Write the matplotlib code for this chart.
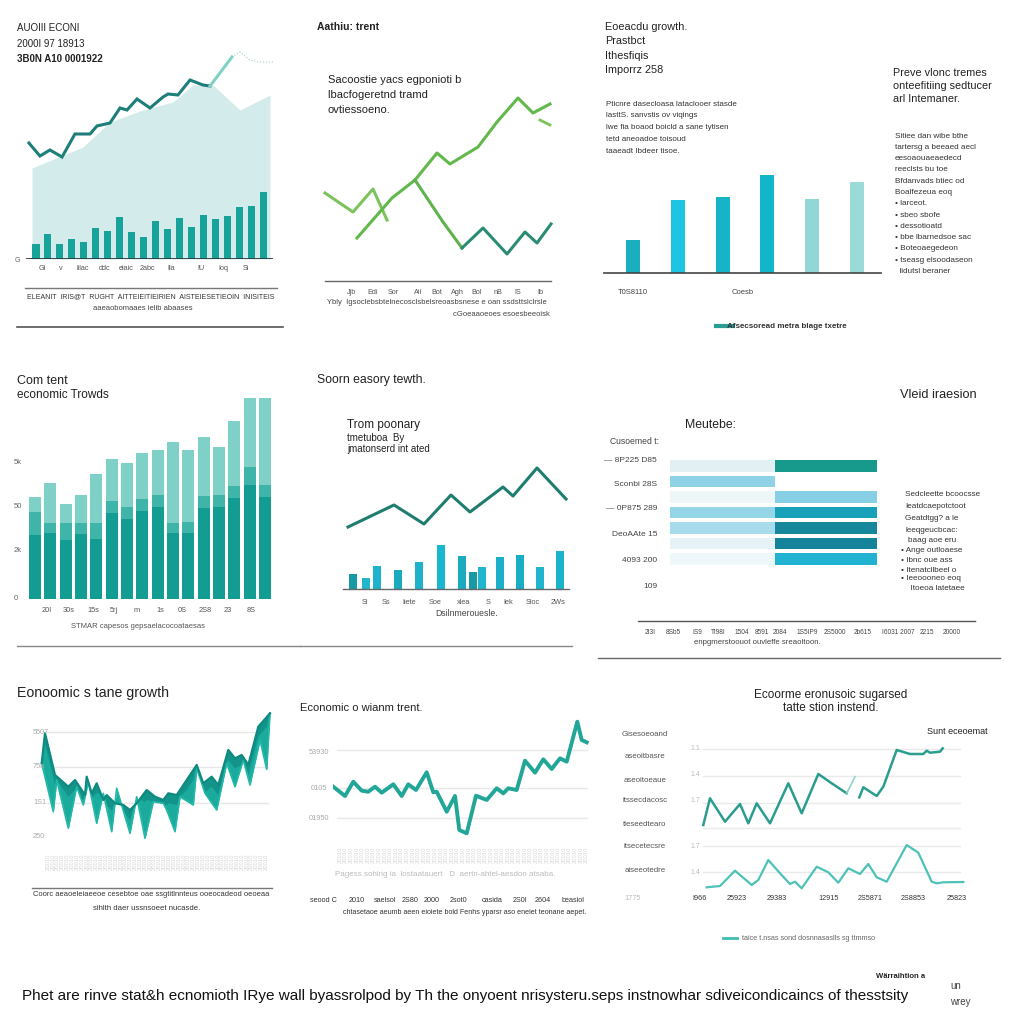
import matplotlib
matplotlib.use("Agg")
import matplotlib.pyplot as plt
from matplotlib.lines import Line2D
import numpy as np

plt.rcParams['font.family'] = ['Liberation Sans', 'DejaVu Sans']

# ---------------- data ----------------
# panel 1: bars + area + line
p1_bars = [15, 25, 15, 20, 17, 31, 28, 42, 27, 22, 38, 30, 41, 32, 44, 40, 43, 52, 53, 67]
p1_area_x = [-0.33, 3.93, 6.19, 8.95, 11.46, 13.14, 14.81, 17.07, 19.58]
p1_area_y = [91, 112, 137, 149, 157, 174, 174, 149, 164]
p1_line_x = [-0.59, 0.33, 1.17, 2.18, 3.26, 4.52, 5.1, 6.19, 7.03, 7.62, 8.45, 9.54, 10.63, 11.05, 11.88, 12.89, 13.97, 14.56]
p1_line_y = [116, 103, 109, 102, 125, 125, 133, 136, 151, 149, 160, 151, 162, 165, 164, 179, 174, 173]
p1_tail_x = [14.56, 16.4]
p1_tail_y = [173, 202]
p1_dot_x = [16.4, 17.07, 17.9, 18.6, 19.9]
p1_dot_y = [202, 207, 199, 197, 197]
p1_xlabels = ["Gi", "v", "lilac", "ddc", "eiaic", "2abc", "Ila", "IU", "Ioq", "Si"]

# panel 2: three green lines
p2_a_x = [5, 33, 53, 67]
p2_a_y = [88, 69, 92, 61]
p2_b_x = [37, 72, 95, 117, 130, 158, 177, 198, 213, 230]
p2_b_y = [43, 83, 101, 128, 117, 134, 159, 183, 168, 177]
p2_stub_x = [220, 230]
p2_stub_y = [161, 156]
p2_c_x = [95, 123, 142, 163, 187, 205, 217, 231]
p2_c_y = [101, 59, 33, 53, 27, 49, 38, 57]
p2_xlabels = ["Jjb", "Edi", "Sor", "Aii", "Bot", "Agh", "Bol", "nB", "IS", "Ib"]

# panel 3: six vertical bars
p3_vals = [33, 73, 76, 98, 74, 91]
p3_colors = ['#1aaebf', '#1cc6e2', '#17b4c8', '#11b7c9', '#92d7d5', '#9adbd8']

# panel 4: stacked bars (dark / mid / light)
p4_dark = [64, 66, 59, 65, 60, 86, 80, 88, 92, 66, 66, 91, 92, 101, 114, 102]
p4_mid = [23, 10, 17, 11, 16, 12, 12, 12, 12, 10, 11, 12, 12, 12, 18, 12]
p4_total = [102, 116, 95, 104, 125, 140, 136, 146, 149, 157, 149, 162, 152, 178, 201, 201]
p4_ylabels = ["5k", "50", "2k", "0"]
p4_xlabels = ["20I", "30s", "15s", "5rj", "m", "1s", "0S", "2S8", "23", "8S"]

# panel 5: bars + line
p5_bar_x = [10, 23, 34, 55, 76, 98, 119, 130, 139, 157, 177, 197, 217]
p5_bar_h = [15, 11, 23, 19, 27, 44, 33, 17, 22, 32, 34, 22, 38]
p5_bar_c = ['#179aa3', '#22b6cd', '#1db3cc', '#1aa9bd', '#1fb3cb', '#1ab7d0', '#1aabbf',
            '#179aa3', '#22b6cd', '#1cb0c8', '#1aaec4', '#20b5cc', '#1bb3cb']
p5_line_x = [5, 51, 81, 108, 127, 160, 170, 194, 223]
p5_line_y = [62, 84, 65, 94, 77, 102, 93, 121, 90]
p5_xlabels = ["Si", "Ss", "Iiete", "Soe", "xlea", "S", "Iek", "Sioc", "2Ws"]

# panel 6: two-part horizontal bars
p6_left = [50.7, 50.7, 50.7, 50.7, 50.7, 50.7, 50.7]
p6_right = [49.3, 0, 49.3, 49.3, 49.3, 49.3, 49.3]
p6_left_c = ['#e3f0f3', '#8fd2e6', '#eef6f8', '#95d5e8', '#a8dcec', '#e6f2f5', '#eef7f9']
p6_right_c = ['#179a8b', '#ffffff', '#86cfe5', '#18a1b9', '#17879c', '#15839a', '#21b2d2']
p6_rowlabels = ["— 8P225 D85", "Sconbi 28S", "— 0P875 289", "DeoAAte 15", "4093 200", "109"]
p6_xlabels = ["2I3I", "8Sb5", "IS9", "TI98I", "1504", "8591", "2084", "1S5IP9", "2S5000",
              "2b615", "I6031 2007", "2215", "20000"]

# panel 7: ribbon
p7_up_x = [1.7, 5, 15, 28.3, 35, 45, 46.7, 51.7, 56.7, 63.3, 66.7, 75, 83.3, 90, 96.7, 106.7, 115,
           123.3, 128.3, 136.7, 146.7, 156.7, 163.3, 171.7, 178.3, 188.3, 195, 201.7, 208.3, 218.3, 230]
p7_up_y = [81.7, 111.7, 70, 58.3, 65, 50, 68.3, 51.7, 61.7, 45, 50, 41.7, 40, 35, 41.7, 55, 48.3,
           45, 51.7, 50, 65, 80, 61.7, 68.3, 60, 95, 86.7, 90, 80, 118.3, 131.7]
p7_lo_x = [1.7, 13.3, 16.7, 28.3, 36.7, 43.3, 48.3, 56.7, 63.3, 71.7, 76.7, 90, 96.7, 105, 113.3,
           123.3, 126.7, 135, 140, 153.3, 156.7, 165, 176.7, 186.7, 195, 203.3, 210, 220, 226.7, 230]
p7_lo_y = [81.7, 33.3, 65, 16.7, 58.3, 40, 63.3, 21.7, 51.7, 13.3, 56.7, 11.7, 48.3, 6.7, 43.3,
           41.7, 35, 13.3, 48.3, 40, 76.7, 51.7, 35, 81.7, 58.3, 85, 60, 105, 75.7, 131.7]
p7_grid = [113, 78, 42]
p7_ylabels = ["5507", "75a", "1S1", "250"]

# panel 8: single teal line
p8_x = [0.3, 12, 20.3, 28.7, 35.3, 42, 48.7, 60.3, 68.7, 75.3, 83, 93.7, 100.3, 103.7, 113.7, 122,
        126.3, 133.7, 143, 153.7, 163.7, 170.3, 175.3, 183.7, 192, 202, 210.3, 218.7, 227, 233.7,
        244.3, 248.7, 253.7]
p8_y = [58.3, 49, 63.3, 54.3, 53.3, 58.3, 52.3, 60.7, 49, 60.7, 55, 72.7, 52.7, 53.3, 33.3, 49,
        15, 11.7, 49.3, 45, 56.7, 51.7, 56.7, 55, 84.3, 72.3, 85.7, 76, 86.7, 83.3, 123.3, 105, 102.7]
p8_grid = [95, 57, 27]
p8_ylabels = ["53930", "0105", "01950"]
p8_xlabels = ["seood C", "2010", "saelsol", "2S80", "2000", "2sot0", "casida", "2S0I", "2604", "beasiol"]

# panel 9: two lines
p9_u1_x = [3.3, 10, 25, 40, 48.3, 56.7, 70, 88.3, 101.7, 118.3, 131.7, 146.7]
p9_u1_y = [70, 96.7, 73.3, 91, 71.7, 91.7, 71.7, 111.7, 81.7, 121, 111.7, 101.7]
p9_ul_x = [146.7, 155]
p9_ul_y = [101.7, 118.3]
p9_u2_x = [159.3, 163.3, 176.7, 183.3, 196.7, 210, 223.3, 226.7, 230, 240, 242.7]
p9_u2_y = [97.7, 107.7, 99, 108.3, 145, 141, 141, 144.3, 142.3, 143.3, 146.7]
p9_lo_x = [6.7, 20, 35, 51.7, 58.3, 68.3, 80, 90, 95, 101.7, 116.7, 128.3, 138.3, 148.3, 160, 168.3,
           176.7, 186.7, 206.7, 218.3, 231.7, 236.7, 243.3, 263.3]
p9_lo_y = [7.7, 9, 24.3, 10, 15, 35, 21.7, 11, 13.3, 6.7, 28.3, 22.7, 12.3, 26.7, 21, 31, 17.7,
           13.3, 50, 42.3, 13.3, 11.7, 12.7, 13]
p9_grid = [146, 119, 92, 67, 49, 23]
p9_ylabels = ["1.1", "1.4", "1.7", "1.7", "1.4"]
p9_rowlabels = ["Gisesoeoand", "aseoitbasre", "aseoitoeaue", "itssecdacosc", "tieseedtearo",
                "itsecetecsre", "aiseeotedre"]
p9_xlabels = ["I966", "25923", "29383", "12915", "2S5871", "2S8853", "25823"]

# ---------------- helpers ----------------
W = H = 1024
fig = plt.figure(figsize=(10.24, 10.24), dpi=100)
fig.patch.set_facecolor('white')


def fx(x):
    return x / W


def fy(y):
    return 1 - y / H


def T(x, y, s, size=7, ha='left', va='center', color='#222', **kw):
    fig.text(fx(x), fy(y), s, fontsize=size, ha=ha, va=va, color=color, **kw)


def HL(y, x0, x1, color='#888', lw=1.0):
    fig.add_artist(Line2D([fx(x0), fx(x1)], [fy(y), fy(y)], transform=fig.transFigure,
                          color=color, lw=lw))


def box(x0, y0, x1, y1):
    ax = fig.add_axes([fx(x0), fy(y1), (x1 - x0) / W, (y1 - y0) / H])
    ax.axis('off')
    return ax


# ================= panel 1 =================
T(17, 28, "AUOIII ECONI", 7)
T(17, 44, "2000I 97 18913", 7)
T(17, 59, "3B0N A10 0001922", 7, weight='bold')
ax = box(25, 40, 278, 259)
ax.set_xlim(-0.92, 20.25)
ax.set_ylim(0, 219)
ax.fill_between(p1_area_x, p1_area_y, color='#d3ebea', lw=0)
ax.bar(range(len(p1_bars)), p1_bars, width=0.59, color='#17a39a')
ax.plot(p1_line_x, p1_line_y, color='#1d7e7a', lw=2.2, solid_joinstyle='miter')
ax.plot(p1_tail_x, p1_tail_y, color='#7fd2c2', lw=2.2)
ax.plot(p1_dot_x, p1_dot_y, color='#9fcfca', lw=0.8, ls=':')
ax.axhline(0, xmin=0.008, xmax=0.976, color='#2f3b3b', lw=1.3)
T(15, 261, "G", 5, color='#666')
for x, s in zip([42, 61, 83, 105, 126, 147, 171, 201, 223, 246], p1_xlabels):
    T(x, 268, s, 5.2, ha='center', color='#555')
HL(288, 25, 277, '#777', 1.0)
T(151, 297, "ELEANIT  IRIS@T  RUGHT  AITTEIEITIEIRIEN  AISTEIESETIEOIN  INISITEIS", 5.0,
  ha='center', color='#333')
T(143, 308, "aaeaobomaaes ielib abaases", 5.5, ha='center', color='#444')
HL(327, 17, 283, '#555', 1.2)

# ================= panel 2 =================
T(317, 27, "Aathiu: trent", 7.5, weight='bold')
T(328, 80, "Sacoostie yacs egponioti b", 8)
T(328, 95, "lbacfogeretnd tramd", 8)
T(328, 110, "ovtiessoeno.", 8)
ax = box(320, 60, 555, 281)
ax.set_xlim(0, 235)
ax.set_ylim(0, 221)
ax.plot(p2_a_x, p2_a_y, color='#7cc35c', lw=2.2)
ax.plot(p2_b_x, p2_b_y, color='#62b84a', lw=2.2)
ax.plot(p2_stub_x, p2_stub_y, color='#7cc35c', lw=2.0)
ax.plot(p2_c_x[:3], p2_c_y[:3], color='#5fb24d', lw=2.2)
ax.plot(p2_c_x[2:], p2_c_y[2:], color='#2c8b74', lw=2.2)
HL(281, 325, 551, '#666', 1.0)
for x, s in zip([352, 373, 393, 418, 437, 457, 477, 498, 518, 540], p2_xlabels):
    T(x, 292, s, 5.2, ha='center', color='#555')
T(327, 303, "Ybly  Igsoclebsbtelnecosclsbelsreoasbsnese e oan ssdsttslclrsle", 5.5,
  color='#444')
T(550, 315, "cGoeaaoeoes esoesbeeoisk", 5.5, ha='right', color='#444')

# ================= panel 3 =================
T(605, 27, "Eoeacdu growth.", 7.8)
T(605, 41, "Prastbct", 7.8)
T(605, 56, "Ithesfiqis", 7.8)
T(605, 70, "Imporrz 258", 7.8)
for i, s in enumerate(["Pticnre dasecloasa lataclooer stasde", "lasttS. sanvstis ov viqings",
                       "lwe fia boaod boicld a sane tytisen", "tetd aneoadoe toisoud",
                       "taaeadt Ibdeer tisoe."]):
    T(606, 104 + i * 11.8, s, 5.8, color='#333')
ax = box(604, 150, 881, 273)
ax.set_xlim(-0.647, 5.536)
ax.set_ylim(0, 123)
ax.bar(range(len(p3_vals)), p3_vals, width=0.31, color=p3_colors)
HL(273, 604, 881, '#444', 1.2)
T(633, 292, "T0S8110", 5.5, ha='center', color='#444')
T(743, 292, "Coesb", 5.5, ha='center', color='#444')
fig.add_artist(Line2D([fx(716), fx(733)], [fy(326), fy(326)], transform=fig.transFigure,
                      color='#2a9d94', lw=3))
T(727, 326, "Afsecsoread metra blage txetre", 5.8, color='#333', weight='bold')
T(893, 73, "Preve vlonc tremes", 7.8)
T(893, 86, "onteefitiing sedtucer", 7.8)
T(893, 99, "arl Intemaner.", 7.8)
p3_side = ["Sitiee dan wibe bthe", "tartersg a beeaed aecl", "eesoaouaeaedecd", "reeclsts bu toe",
           "Bfdanvads btiec od", "Boalfezeua eoq", "• larceot.", "• sbeo sbofe", "• dessotioatd",
           "• bbe lbarnedsoe sac", "• Boteoaegedeon", "• tseasg elsoodaseon", "  lidutsl beraner"]
for i, s in enumerate(p3_side):
    T(895, 136 + i * 11.3, s, 5.9, color='#333')

# ================= panel 4 =================
T(17, 381, "Com tent", 9)
T(17, 395, "economic Trowds", 8.5)
ax = box(17, 380, 300, 599)
ax.set_xlim(-1.174, 17.29)
ax.set_ylim(0, 219)
idx = np.arange(len(p4_total))
mid_top = np.array(p4_dark) + np.array(p4_mid)
ax.bar(idx, p4_total, width=0.78, color='#7fd0c6')
ax.bar(idx, mid_top, width=0.78, color='#3fb5aa')
ax.bar(idx, p4_dark, width=0.78, color='#139c91')
for y, s in zip([463, 506, 550, 599], p4_ylabels):
    T(14, y, s, 5.5, color='#666')
for x, s in zip([47, 69, 93, 114, 137, 160, 182, 205, 228, 251], p4_xlabels):
    T(x, 610, s, 5.3, ha='center', color='#555')
T(138, 627, "STMAR capesos gepsaelacocoataesas", 5.5, ha='center', color='#555')
HL(646, 17, 300, '#888', 1.0)

# ================= panel 5 =================
T(317, 380, "Soorn easory tewth.", 8.8)
T(347, 425, "Trom poonary", 8.5)
T(347, 438, "tmetuboa  By", 7)
T(347, 449, "jmatonserd int ated", 7)
ax = box(343, 440, 569, 589)
ax.set_xlim(0, 226)
ax.set_ylim(0, 149)
ax.bar(p5_bar_x, p5_bar_h, width=8, color=p5_bar_c)
ax.plot(p5_line_x, p5_line_y, color='#1f7d70', lw=2.2)
HL(589, 343, 569, '#666', 1.0)
for x, s in zip([365, 386, 409, 435, 464, 488, 508, 533, 558], p5_xlabels):
    T(x, 602, s, 5.3, ha='center', color='#555')
T(467, 613, "Dsilnmerouesle.", 6.2, ha='center', color='#444')
HL(646, 300, 572, '#888', 1.0)

# ================= panel 6 =================
T(900, 395, "Vleid iraesion", 9.2)
T(685, 425, "Meutebe:", 8.8)
T(659, 442, "Cusoemed t:", 6.2, ha='right', color='#444')
for y, s in zip([461, 484, 509, 535, 561, 587], p6_rowlabels):
    T(657, y, s, 6.0, ha='right', color='#444')
ax = box(670, 440, 877, 621)
ax.set_xlim(0, 100)
ax.set_ylim(10.0, -1.68)
rows = np.arange(len(p6_left))
ax.barh(rows, p6_left, height=0.77, color=p6_left_c)
ax.barh(rows, p6_right, left=p6_left, height=0.77, color=p6_right_c)
HL(621, 638, 975, '#555', 1.0)
for x, s in zip([650, 673, 697, 718, 742, 762, 780, 807, 835, 863, 898, 927, 952], p6_xlabels):
    T(x, 632, s, 4.7, ha='center', color='#444')
T(757, 643, "enpgmerstoouot ouvleffe sreaoltoon.", 5.6, ha='center', color='#444')
HL(658, 598, 1000, '#666', 1.0)
p6_side = [(905, 494, "Sedcleette bcoocsse"), (905, 506, "Ieatdcaepotctoot"),
           (905, 518, "Geatdtgg? a le"), (905, 530, "leeqgeucbcac:"), (908, 540, "baag aoe eru"),
           (901, 551, "• Ange outloaese"), (901, 561, "• Ibnc oue ass"),
           (901, 570, "• Itenatcllbeel o"), (901, 579, "• Ieeoooneo eoq"),
           (906, 589, "  Itoeoa latetaee")]
for x, y, s in p6_side:
    T(x, y, s, 5.9, color='#333')

# ================= panel 7 =================
T(17, 693, "Eonoomic s tane growth", 10.2)
ax = box(40, 705, 272, 845)
ax.set_xlim(0, 232)
ax.set_ylim(0, 140)
for g in p7_grid:
    ax.axhline(g, xmin=0.03, xmax=0.983, color='#e6e6e6', lw=1, zorder=0)
# evaluate both polylines at the union of their own vertices (exact for straight segments)
knots = np.array(sorted(set(p7_up_x) | set(p7_lo_x)))
up_k = np.interp(knots, p7_up_x, p7_up_y)
lo_k = np.interp(knots, p7_lo_x, p7_lo_y)
ax.fill_between(knots, lo_k, up_k, color='#1aab9d', lw=0, zorder=1)
ax.fill_between(knots, np.maximum(lo_k, up_k - 10), up_k, where=up_k >= lo_k,
                color='#12948a', lw=0, interpolate=True, zorder=1)
ax.plot(p7_lo_x, p7_lo_y, color='#22b8a8', lw=1.2, zorder=2)
ax.plot(p7_up_x, p7_up_y, color='#0f8a80', lw=1.6, zorder=2)
for y, s in zip([732, 767, 803, 837], p7_ylabels):
    T(33, y, s, 5.3, color='#aaa')
for i in range(46):
    T(48 + i * 4.85, 862, "20010", 4.2, ha='center', rotation=90, color='#d4d4d4')
HL(888, 32, 272, '#777', 1.0)
T(33, 895, "Coorc aeaoeleiaeeoe cesebtoe oae ssgtitlnnteus ooeocadeod oeoeaa", 5.4,
  color='#333')
T(147, 909, "sihlth daer ussnsoeet nucasde.", 5.6, ha='center', color='#333')

# ================= panel 8 =================
T(300, 708, "Economic o wianm trent.", 8)
ax = box(333, 715, 590, 845)
ax.set_xlim(0, 257)
ax.set_ylim(0, 130)
for g in p8_grid:
    ax.axhline(g, xmin=0.016, xmax=0.99, color='#e8e8e8', lw=1, zorder=0)
ax.plot(p8_x, p8_y, color='#22a698', lw=2.8, solid_joinstyle='round')
for y, s in zip([752, 788, 818], p8_ylabels):
    T(319, y, s, 5.3, ha='center', color='#aaa')
for i in range(45):
    T(340 + i * 5.6, 855, "20010", 4.2, ha='center', rotation=90, color='#d6d6d6')
T(445, 875, "Pagess sohlng ia  lostaatauert   D  aertn-ahtel-aesdon atsaba.", 5.8,
  ha='center', color='#bbb')
for x, s in zip([323, 357, 385, 410, 432, 458, 492, 520, 543, 573], p8_xlabels):
    T(x, 900, s, 5.2, ha='center', color='#333')
T(465, 912, "chtasetaoe aeumb aeen eioiete bold Fenhs yparsr aso eneiet teonane aepet.", 5.1,
  ha='center', color='#333')

# ================= panel 9 =================
T(831, 695, "Ecoorme eronusoic sugarsed", 8.5, ha='center')
T(831, 708, "tatte stion instend.", 8.5, ha='center')
T(957, 731, "Sunt eceoemat", 6.5, ha='center')
for y, s in zip([734, 756, 780, 801, 825, 847, 871], p9_rowlabels):
    T(645, y, s, 5.7, ha='center', color='#555')
T(633, 898, "1775", 5.3, ha='center', color='#bbb')
ax = box(700, 740, 965, 895)
ax.set_xlim(0, 265)
ax.set_ylim(0, 155)
for g in p9_grid:
    ax.axhline(g, xmin=0.01, xmax=0.98, color='#eaeaea', lw=1, zorder=0)
ax.plot(p9_u1_x, p9_u1_y, color='#2a9d8f', lw=1.8, solid_joinstyle='round')
ax.plot(p9_ul_x, p9_ul_y, color='#8fd3c9', lw=1.2)
ax.plot(p9_u2_x, p9_u2_y, color='#2a9d8f', lw=1.8, solid_joinstyle='round')
ax.plot(p9_lo_x, p9_lo_y, color='#4cc2b8', lw=1.6, solid_joinstyle='round')
for y, s in zip([748, 775, 801, 846, 872], p9_ylabels):
    T(695, y, s, 5.0, ha='center', color='#bbb')
for x, s in zip([700, 737, 777, 829, 870, 913, 957], p9_xlabels):
    T(x, 898, s, 5.2, ha='center', color='#333')
fig.add_artist(Line2D([fx(723), fx(737)], [fy(938), fy(938)], transform=fig.transFigure,
                      color='#3dbfb3', lw=2))
T(742, 938, "taice t.nsas sond dosnnasaslls sg ttmmso", 5.2, color='#666')

# ================= footer =================
T(22, 996, "Phet are rinve stat&h ecnomioth IRye wall byassrolpod by Th the onyoent "
           "nrisysteru.seps instnowhar sdiveicondicaincs of thesstsity", 11.0, color='#111')
T(876, 977, "Wärraihtion a", 5.5, color='#222', weight='bold')
T(950, 986, "un", 7, color='#444')
T(950, 1002, "wrey", 7, color='#444')

fig.savefig("out.png", dpi=100, facecolor='white')
